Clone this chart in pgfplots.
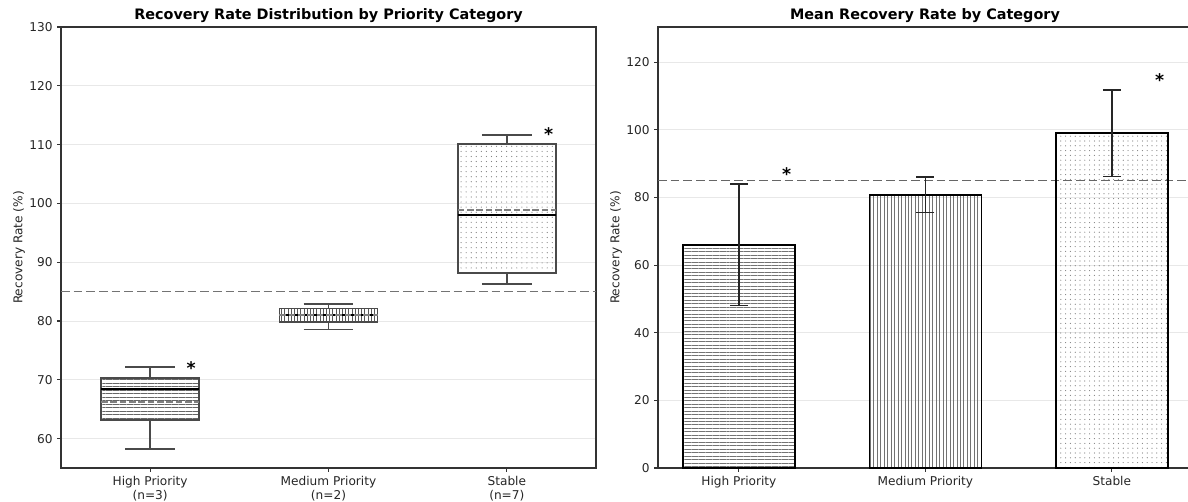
\documentclass[border=0pt]{standalone}
\usepackage{fontspec}
\setmainfont{DejaVu Sans}
\usepackage{pgfplots}
\pgfplotsset{compat=1.18}
\usetikzlibrary{patterns.meta}

\definecolor{spine}{HTML}{333333}
\definecolor{gridc}{HTML}{E8E8E8}
\definecolor{boxedge}{HTML}{4A4A4A}

\tikzset{star/.style={font=\bfseries\fontsize{13}{13}\selectfont, anchor=center, yshift=-2.5pt}}

\pgfplotsset{
  common/.style={
    scale only axis,
    anchor=south west,
    clip=false,
    axis line style={spine, line width=0.8pt},
    tick style={spine, line width=0.8pt},
    major tick length=2.8pt,
    tick align=outside,
    xtick pos=left, ytick pos=left,
    ymajorgrids,
    major grid style={gridc, line width=0.6pt},
    tick label style={font=\fontsize{9.1}{10.6}\selectfont, text=black!85},
    label style={font=\fontsize{9.1}{10.6}\selectfont, text=black!85},
    ylabel style={yshift=-3.5pt},
    title style={font=\bfseries\fontsize{10.8}{13}\selectfont, yshift=-6pt},
    /pgf/number format/assume math mode=true,
  },
  boxline/.style={draw=boxedge, line width=1.1pt, line join=miter},
  meanline/.style={black!50, line width=1.6pt, dash pattern=on 5pt off 2pt},
  medline/.style={black, line width=1.6pt},
}

\begin{document}
\begin{tikzpicture}
% ---------------- Left: box plots ----------------
\begin{axis}[common,
  at={(45.75pt,24.75pt)}, width=401.25pt, height=330.75pt,
  xmin=0.5, xmax=3.5, ymin=55, ymax=130,
  xtick={1,2,3},
  xticklabels={High Priority\\(n=3), Medium Priority\\(n=2), Stable\\(n=7)},
  xticklabel style={align=center},
  ytick={60,70,...,130},
  ylabel={Recovery Rate (\%)},
  title={Recovery Rate Distribution by Priority Category},
]
% reference line
\addplot[black!55, line width=1pt, dash pattern=on 6.5pt off 3pt] coordinates {(0.5,85) (3.5,85)};
% ---- High Priority: whiskers 58.2/72.2, quartiles 63.2/70.3, median 68.4, mean 66.2
\addplot[boxline] coordinates {(1,63.2) (1,58.2)};
\addplot[boxline] coordinates {(0.86,58.2) (1.14,58.2)};
\addplot[boxline] coordinates {(1,70.3) (1,72.2)};
\addplot[boxline] coordinates {(0.86,72.2) (1.14,72.2)};
\addplot[boxline, pattern={Lines[angle=0,distance=2.6pt,line width=0.45pt]}, pattern color=black!60]
  coordinates {(0.725,63.2) (1.275,63.2) (1.275,70.3) (0.725,70.3)} -- cycle;
\addplot[medline] coordinates {(0.725,68.4) (1.275,68.4)};
\addplot[meanline] coordinates {(0.725,66.2) (1.275,66.2)};
% ---- Medium Priority: whiskers 78.6/82.9, quartiles 79.8/82.1, median 81.0, mean 81.0
\addplot[boxline] coordinates {(2,79.8) (2,78.6)};
\addplot[boxline] coordinates {(1.86,78.6) (2.14,78.6)};
\addplot[boxline] coordinates {(2,82.1) (2,82.9)};
\addplot[boxline] coordinates {(1.86,82.9) (2.14,82.9)};
\addplot[boxline, pattern={Lines[angle=90,distance=2.4pt,line width=0.5pt]}, pattern color=black!65]
  coordinates {(1.725,79.8) (2.275,79.8) (2.275,82.1) (1.725,82.1)} -- cycle;
\addplot[medline] coordinates {(1.725,81.0) (2.275,81.0)};
\addplot[meanline] coordinates {(1.725,81.0) (2.275,81.0)};
% ---- Stable: whiskers 86.3/111.6, quartiles 88.2/110.1, median 98.0, mean 98.9
\addplot[boxline] coordinates {(3,88.2) (3,86.3)};
\addplot[boxline] coordinates {(2.86,86.3) (3.14,86.3)};
\addplot[boxline] coordinates {(3,110.1) (3,111.6)};
\addplot[boxline] coordinates {(2.86,111.6) (3.14,111.6)};
\addplot[boxline, pattern={Dots[distance=3.8pt,radius=0.45pt]}, pattern color=black!50]
  coordinates {(2.725,88.2) (3.275,88.2) (3.275,110.1) (2.725,110.1)} -- cycle;
\addplot[medline] coordinates {(2.725,98.0) (3.275,98.0)};
\addplot[meanline] coordinates {(2.725,98.9) (3.275,98.9)};
% significance markers
\node[star] at (axis cs:1.23,72.6) {*};
\node[star] at (axis cs:3.235,112.3) {*};
\end{axis}

% ---------------- Right: bar chart ----------------
\begin{axis}[common,
  at={(493.5pt,24.75pt)}, width=400.5pt, height=330.75pt,
  xmin=-0.434, xmax=2.43, ymin=0, ymax=130.4,
  xtick={0,1,2},
  xticklabels={High Priority, Medium Priority, Stable},
  ytick={0,20,...,120},
  ylabel={Recovery Rate (\%)},
  title={Mean Recovery Rate by Category},
  error bars/y dir=both, error bars/y explicit,
  error bars/error bar style={black!85, line width=1.1pt},
  error bars/error mark options={black!85, line width=1.2pt, mark size=6.75pt, rotate=90},
]
% reference line
\addplot[black!60, line width=1pt, dash pattern=on 6.5pt off 3pt] coordinates {(-0.434,85) (2.43,85)};
\addplot[ybar, bar width=0.6, bar shift=0pt, draw=black, line width=1.2pt,
  every mark/.append style={line width=1.2pt},
  pattern={Lines[angle=0,distance=2.6pt,line width=0.45pt]}, pattern color=black!55]
  coordinates {(0,66.0) +- (0,18.0)};
\addplot[ybar, bar width=0.6, bar shift=0pt, draw=black, line width=1.2pt,
  every mark/.append style={line width=1.2pt},
  pattern={Lines[angle=90,distance=2.6pt,line width=0.45pt]}, pattern color=black!55]
  coordinates {(1,80.8) +- (0,5.3)};
\addplot[ybar, bar width=0.6, bar shift=0pt, draw=black, line width=1.2pt,
  every mark/.append style={line width=1.2pt},
  pattern={Dots[distance=3.6pt,radius=0.45pt]}, pattern color=black!50]
  coordinates {(2,99.0) +- (0,12.8)};
\node[star] at (axis cs:0.256,88.0) {*};
\node[star] at (axis cs:2.257,115.8) {*};
\end{axis}
\pgfresetboundingbox
\useasboundingbox (0,0) rectangle (891pt,375.75pt);
\end{tikzpicture}
\end{document}
